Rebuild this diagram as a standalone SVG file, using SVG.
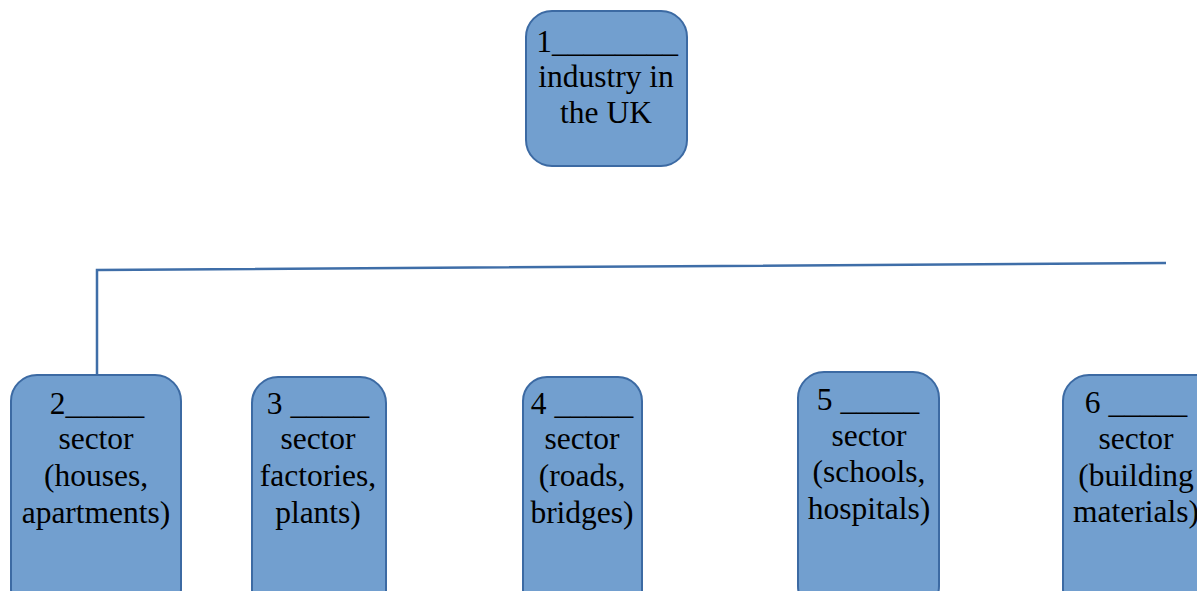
<svg xmlns="http://www.w3.org/2000/svg" width="1197" height="591" viewBox="0 0 1197 591">
<style>
.box{fill:#729fcf;stroke:#3c6aa3;stroke-width:2}
.t{font-family:"Liberation Serif","Times New Roman",serif;font-size:31.5px;fill:#000;text-anchor:middle}
.c{fill:none;stroke:#3f6ea8;stroke-width:2.5}
</style>
<rect width="1197" height="591" fill="#fff"/>
<g id="connectors">
<path class="c" d="M97 375 V270 L1166 263"/>
</g>
<g id="n1">
<rect class="box" x="526" y="11" width="161" height="155" rx="26"/>
<text class="t" x="607" y="52">1________</text>
<text class="t" x="606" y="87">industry in</text>
<text class="t" x="606" y="123">the UK</text>
</g>
<g id="n2">
<rect class="box" x="11" y="375" width="170" height="240" rx="26"/>
<text class="t" x="97" y="414">2_____</text>
<text class="t" x="96" y="449">sector</text>
<text class="t" x="96" y="486">(houses,</text>
<text class="t" x="96" y="523">apartments)</text>
</g>
<g id="n3">
<rect class="box" x="252" y="377" width="134" height="240" rx="26"/>
<text class="t" x="318" y="414">3 _____</text>
<text class="t" x="318" y="449">sector</text>
<text class="t" x="318" y="486">factories,</text>
<text class="t" x="318" y="523">plants)</text>
</g>
<g id="n4">
<rect class="box" x="523" y="377" width="119" height="240" rx="24"/>
<text class="t" x="582" y="414">4 _____</text>
<text class="t" x="582" y="449">sector</text>
<text class="t" x="582" y="486">(roads,</text>
<text class="t" x="582" y="523">bridges)</text>
</g>
<g id="n5">
<rect class="box" x="798" y="372" width="141" height="240" rx="26"/>
<text class="t" x="868" y="410">5 _____</text>
<text class="t" x="869" y="446">sector</text>
<text class="t" x="869" y="482">(schools,</text>
<text class="t" x="869" y="519">hospitals)</text>
</g>
<g id="n6">
<rect class="box" x="1063" y="375" width="160" height="240" rx="26"/>
<text class="t" x="1136" y="413">6 _____</text>
<text class="t" x="1136" y="449">sector</text>
<text class="t" x="1136" y="486">(building</text>
<text class="t" x="1136" y="522">materials)</text>
</g>
</svg>
